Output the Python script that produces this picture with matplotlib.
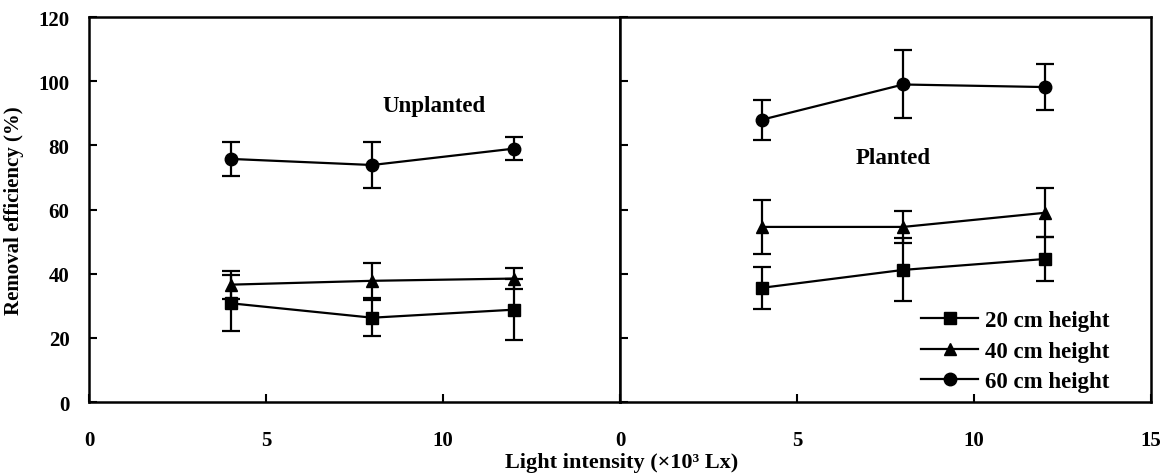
# -*- coding: utf-8 -*-

import matplotlib.pyplot as plt

# 字体：Times 风格加粗
plt.rcParams['font.family'] = ['Liberation Serif', 'DejaVu Serif']
plt.rcParams['font.weight'] = 'bold'
plt.rcParams['axes.labelweight'] = 'bold'
plt.rcParams['font.size'] = 15

# 数据（光照强度 x10^3 Lx）
light = [4, 8, 12]
heights = ['20 cm height', '40 cm height', '60 cm height']
markers = ['s', '^', 'o']

# 未种植
unplanted_mean = [[30.8, 26.3, 28.8],
                  [36.6, 37.8, 38.5],
                  [75.8, 73.9, 79.0]]
unplanted_err = [[8.7, 5.6, 9.6],
                 [4.4, 5.4, 3.4],
                 [5.2, 7.2, 3.6]]

# 种植
planted_mean = [[35.6, 41.2, 44.6],
                [54.6, 54.6, 59.0],
                [88.0, 99.0, 98.2]]
planted_err = [[6.6, 9.8, 6.8],
               [8.4, 5.0, 7.6],
               [6.2, 10.6, 7.2]]

x_ticks = [0, 5, 10, 15]
y_ticks = [0, 20, 40, 60, 80, 100, 120]


def drawPanel(ax, means, errs, showLegend):
    for m, e, mk, lab in zip(means, errs, markers, heights):
        ax.errorbar(light, m, yerr=e, fmt='none', ecolor='black',
                    elinewidth=1.6, capsize=6.5, capthick=1.6, zorder=2)
        ax.plot(light, m, color='black', lw=1.6, marker=mk, ms=9,
                label=lab, zorder=3)
    ax.set_xlim(0, 15)
    ax.set_ylim(0, 120)
    ax.set_xticks(x_ticks)
    ax.set_yticks(y_ticks)
    ax.tick_params(direction='in', length=6, width=1.5)
    ax.tick_params(axis='x', pad=20)
    ax.tick_params(axis='y', pad=14)
    for s in ax.spines.values():
        s.set_linewidth(1.8)
    if showLegend:
        ax.legend(loc='lower left', bbox_to_anchor=(0.567, 0.025),
                  frameon=False, borderpad=0, borderaxespad=0,
                  prop={'size': 16.5, 'weight': 'bold'},
                  handlelength=2.5, handletextpad=0.3, labelspacing=0.42)


fig = plt.figure(figsize=(11.72, 4.77), dpi=100, facecolor='white')
axL = fig.add_axes([0.0759, 0.155, 0.4531, 0.807])
axR = fig.add_axes([0.5290, 0.155, 0.4531, 0.807])

drawPanel(axL, unplanted_mean, unplanted_err, False)
drawPanel(axR, planted_mean, planted_err, True)

# 左图不显示 15，右图不显示 y 轴标签
axL.set_xticklabels(['0', '5', '10', ''])
axL.tick_params(axis='y', right=False)
axR.tick_params(axis='y', labelleft=False)

axL.text(0.65, 0.77, 'Unplanted', transform=axL.transAxes,
         ha='center', va='center', fontsize=16.5)
axR.text(0.515, 0.635, 'Planted', transform=axR.transAxes,
         ha='center', va='center', fontsize=16.5)

axL.set_ylabel('Removal efficiency (%)', labelpad=10)
fig.text(0.53, 0.03, 'Light intensity (×10³ Lx)', ha='center', va='center',
         fontsize=16)

fig.savefig('out.png', dpi=100)
